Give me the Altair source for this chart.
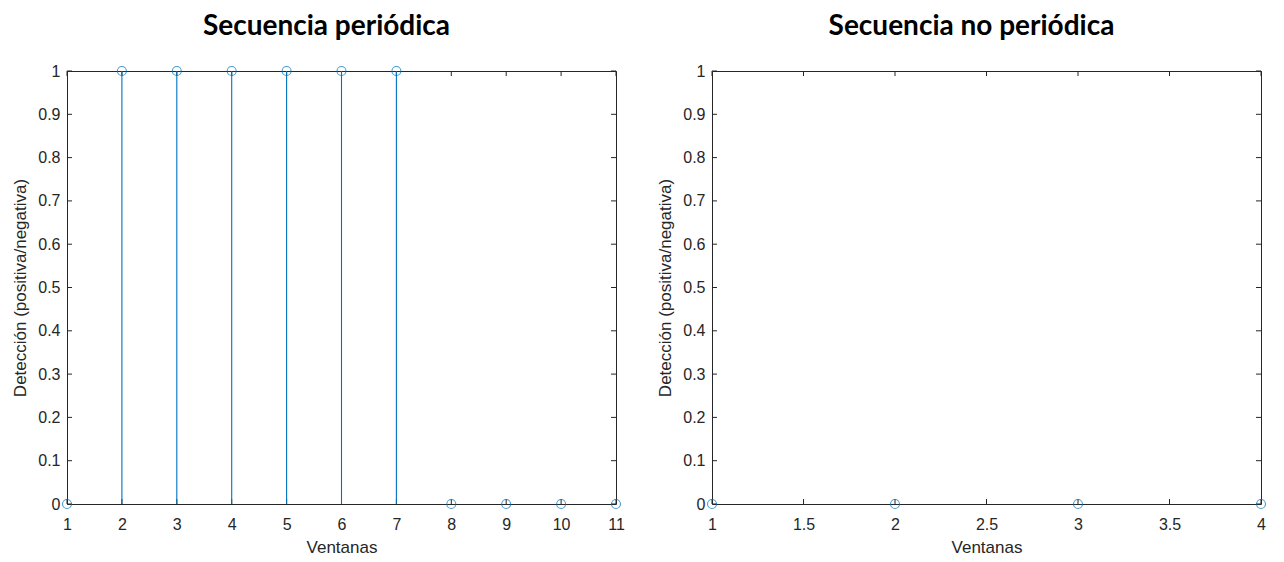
import altair as alt
import pandas as pd

# ---- data ----
left_x = [1, 2, 3, 4, 5, 6, 7, 8, 9, 10, 11]
left_y = [0, 1, 1, 1, 1, 1, 1, 0, 0, 0, 0]
right_x = [1, 2, 3, 4]
right_y = [0, 0, 0, 0]
left_xticks = [1, 2, 3, 4, 5, 6, 7, 8, 9, 10, 11]
right_xticks = [1, 1.5, 2, 2.5, 3, 3.5, 4]
yticks = [0, 0.1, 0.2, 0.3, 0.4, 0.5, 0.6, 0.7, 0.8, 0.9, 1]
titles = ["Secuencia periódica", "Secuencia no periódica"]
x_title = "Ventanas"
y_title = "Detección (positiva/negativa)"

STEM = "#0072BD"
AX = "#262626"
TL = 5
W, H = 549, 433


def panel(xs, ys, xticks, xdom, title):
    df = pd.DataFrame({"x": xs, "y": ys})
    dxt = pd.DataFrame({"t": xticks})
    dyt = pd.DataFrame({"t": yticks})
    xsc = alt.Scale(domain=xdom, nice=False, zero=False)
    ysc = alt.Scale(domain=[0, 1], nice=False)
    xax = alt.Axis(values=xticks, title=x_title, tickSize=0, domain=False, grid=False,
                   labelPadding=12, titlePadding=7, labelFontSize=16, titleFontSize=17,
                   labelColor=AX, titleColor=AX, titleFontWeight="normal",
                   labelFont="Liberation Sans", titleFont="Liberation Sans",
                   labelFlush=False, format="~g")
    yax = alt.Axis(values=yticks, title=y_title, tickSize=0, domain=False, grid=False,
                   labelPadding=7, titlePadding=8, labelFontSize=16, titleFontSize=17,
                   labelColor=AX, titleColor=AX, titleFontWeight="normal",
                   labelFont="Liberation Sans", titleFont="Liberation Sans",
                   labelFlush=False, format="~g")
    stems = alt.Chart(df).mark_rule(color=STEM, strokeWidth=1.1).encode(
        x=alt.X("x:Q", scale=xsc, axis=xax),
        y=alt.Y("y:Q", scale=ysc, axis=yax),
        y2=alt.datum(0),
    )
    pts = alt.Chart(df).mark_point(shape="circle", filled=False, color=STEM,
                                   size=80, strokeWidth=1.1, clip=False).encode(
        x=alt.X("x:Q", scale=xsc), y=alt.Y("y:Q", scale=ysc))
    tb = alt.Chart(dxt).mark_rule(color=AX, strokeWidth=1).encode(
        x=alt.X("t:Q", scale=xsc), y=alt.value(H), y2=alt.value(H - TL))
    tt = alt.Chart(dxt).mark_rule(color=AX, strokeWidth=1).encode(
        x=alt.X("t:Q", scale=xsc), y=alt.value(0), y2=alt.value(TL))
    tlft = alt.Chart(dyt).mark_rule(color=AX, strokeWidth=1).encode(
        y=alt.Y("t:Q", scale=ysc), x=alt.value(0), x2=alt.value(TL))
    trgt = alt.Chart(dyt).mark_rule(color=AX, strokeWidth=1).encode(
        y=alt.Y("t:Q", scale=ysc), x=alt.value(W - TL), x2=alt.value(W))
    return alt.layer(tb, tt, tlft, trgt, stems, pts).properties(
        width=W, height=H,
        title=alt.TitleParams(title, font="Lato", fontSize=28, fontWeight="bold",
                              color="#000000", offset=22, anchor="middle", dx=-15),
    )


left = panel(left_x, left_y, left_xticks, [1, 11], titles[0])
right = panel(right_x, right_y, right_xticks, [1, 4], titles[1])

chart = alt.hconcat(left, right, spacing=96, bounds="flush").configure_view(
    stroke=AX, strokeWidth=1
).properties(
    background="white", padding={"left": 11, "top": 12, "right": 0, "bottom": 0}
)

chart.save("out.html", embed_options={"renderer": "svg", "actions": False})
